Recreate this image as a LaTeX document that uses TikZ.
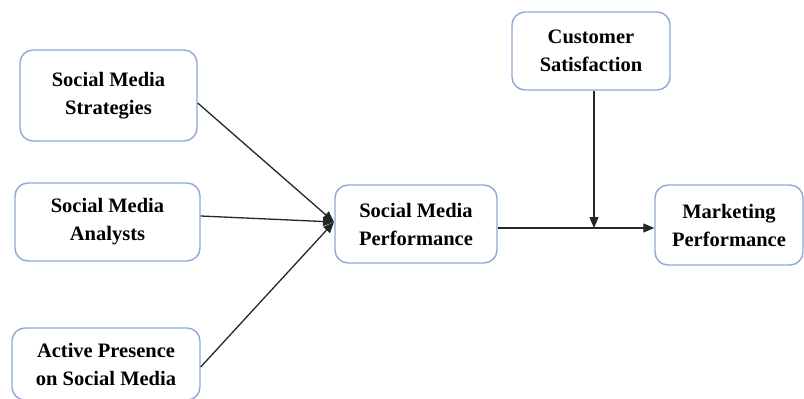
\documentclass[tikz,border=0pt]{standalone}
\usepackage{fontspec}
\setmainfont{Liberation Serif}
\usetikzlibrary{arrows.meta}
\definecolor{boxedge}{RGB}{143,168,215}
\begin{document}
\begin{tikzpicture}[x=1pt,y=-1pt,
  box/.style={draw=boxedge,line width=1.4pt,rounded corners=13pt,align=center,
    font=\fontsize{20.5}{28}\selectfont\bfseries,inner sep=0pt},
  conn/.style={draw=black!85,line width=1.3pt},
  arr/.style={conn,-{Triangle[length=11pt,width=9pt]}}]
\useasboundingbox (0,0) rectangle (804,399);
\node[box,minimum width=177pt,minimum height=91pt] (sms) at (108.5,95.5) {Social Media\\Strategies};
\node[box,minimum width=185pt,minimum height=78pt] (sma) at (107.5,222) {Social Media\\Analysts};
\node[box,minimum width=188pt,minimum height=72pt] (apsm) at (106,364) {Active Presence\\on Social Media};
\node[box,minimum width=162pt,minimum height=78pt] (smp) at (416,224) {Social Media\\Performance};
\node[box,minimum width=158pt,minimum height=78pt] (cs) at (591,51) {Customer\\Satisfaction};
\node[box,minimum width=148pt,minimum height=80pt] (mp) at (729,225) {Marketing\\Performance};
\coordinate (conv) at (334,222);
\coordinate (join) at (594,228);
\draw[arr] (sms.east |- 0,103) -- (conv);
\draw[arr] (sma.east |- 0,216) -- (conv);
\draw[arr] (apsm.east |- 0,367) -- (conv);
\draw[arr] (smp.east |- join) -- (mp.west |- join);
\draw[arr] (cs.south -| join) -- (join);
\end{tikzpicture}
\end{document}
